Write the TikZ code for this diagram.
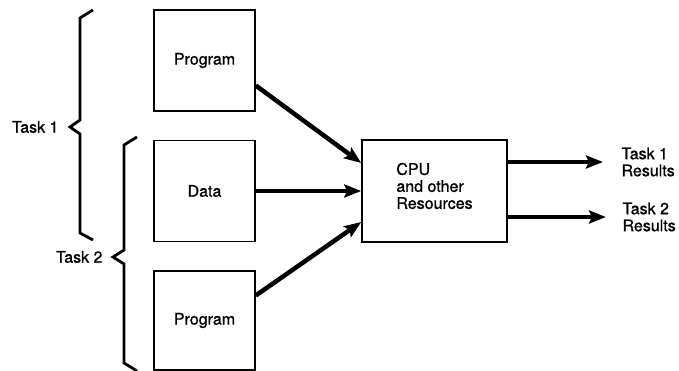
\documentclass[tikz,border=0pt]{standalone}
\usepackage{fontspec}
\setmainfont{TeX Gyre Heros}[FakeBold=1]
\usetikzlibrary{arrows.meta,positioning}

\tikzset{
  unit/.style={draw, line width=1.5pt, minimum width=101pt, minimum height=101pt, inner sep=0pt},
  feed/.style={line width=4.5pt, -{Stealth[length=17pt,width=13pt,inset=3pt]}},
  brace/.style={line width=2.8pt, line join=miter},
}

\begin{document}
\begin{tikzpicture}[every node/.style={font=\fontsize{16}{17}\selectfont}, x=1pt, y=-1pt]
	\useasboundingbox (0,0) rectangle (679,371);
	\node[unit] (prog1) at (204.5,60.5) {Program};
	\node[unit] (data) at (204.5,191) {Data};
	\node[unit, minimum height=99pt] (prog2) at (204.5,320.5) {Program};
	\node[unit, minimum width=145pt, minimum height=102pt] (cpu) at (434.5,191) {};
	\node[align=left, yshift=5pt] (cpulabel) at (cpu.center) {CPU\\and other\\Resources};
	\coordinate (in1) at ([yshift=28pt]cpu.west);
	\coordinate (in2) at (cpu.west);
	\coordinate (in3) at ([yshift=-31pt]cpu.west);
	\draw[feed] ([yshift=-25pt]prog1.east) -- (in1);
	\draw[feed] (data.east) -- (in2);
	\draw[feed] ([yshift=25pt]prog2.east) -- (in3);
	\coordinate (out1) at (603,162);
	\coordinate (out2) at (606,217);
	\draw[feed] (cpu.east |- out1) -- (out1);
	\draw[feed] (cpu.east |- out2) -- (out2);
	\node[align=left, anchor=west, xshift=15pt] (res1) at (out1) {Task 1\\Results};
	\node[align=left, anchor=west, xshift=13pt] (res2) at (out2) {Task 2\\Results};
	\draw[brace] (93,10) -- (80,18) -- (80,120) -- (70,127) -- (80,134) -- (80,233) -- (93,240);
	\draw[brace] (137,137) -- (124,145) -- (124,250) -- (113,257) -- (124,264) -- (124,363) -- (137,371);
	\coordinate (tip1) at (70,127);
	\coordinate (tip2) at (113,257);
	\node[anchor=east, xshift=-8pt] (task1) at (tip1) {Task 1};
	\node[anchor=east, xshift=-7pt] (task2) at (tip2) {Task 2};
\end{tikzpicture}
\end{document}
